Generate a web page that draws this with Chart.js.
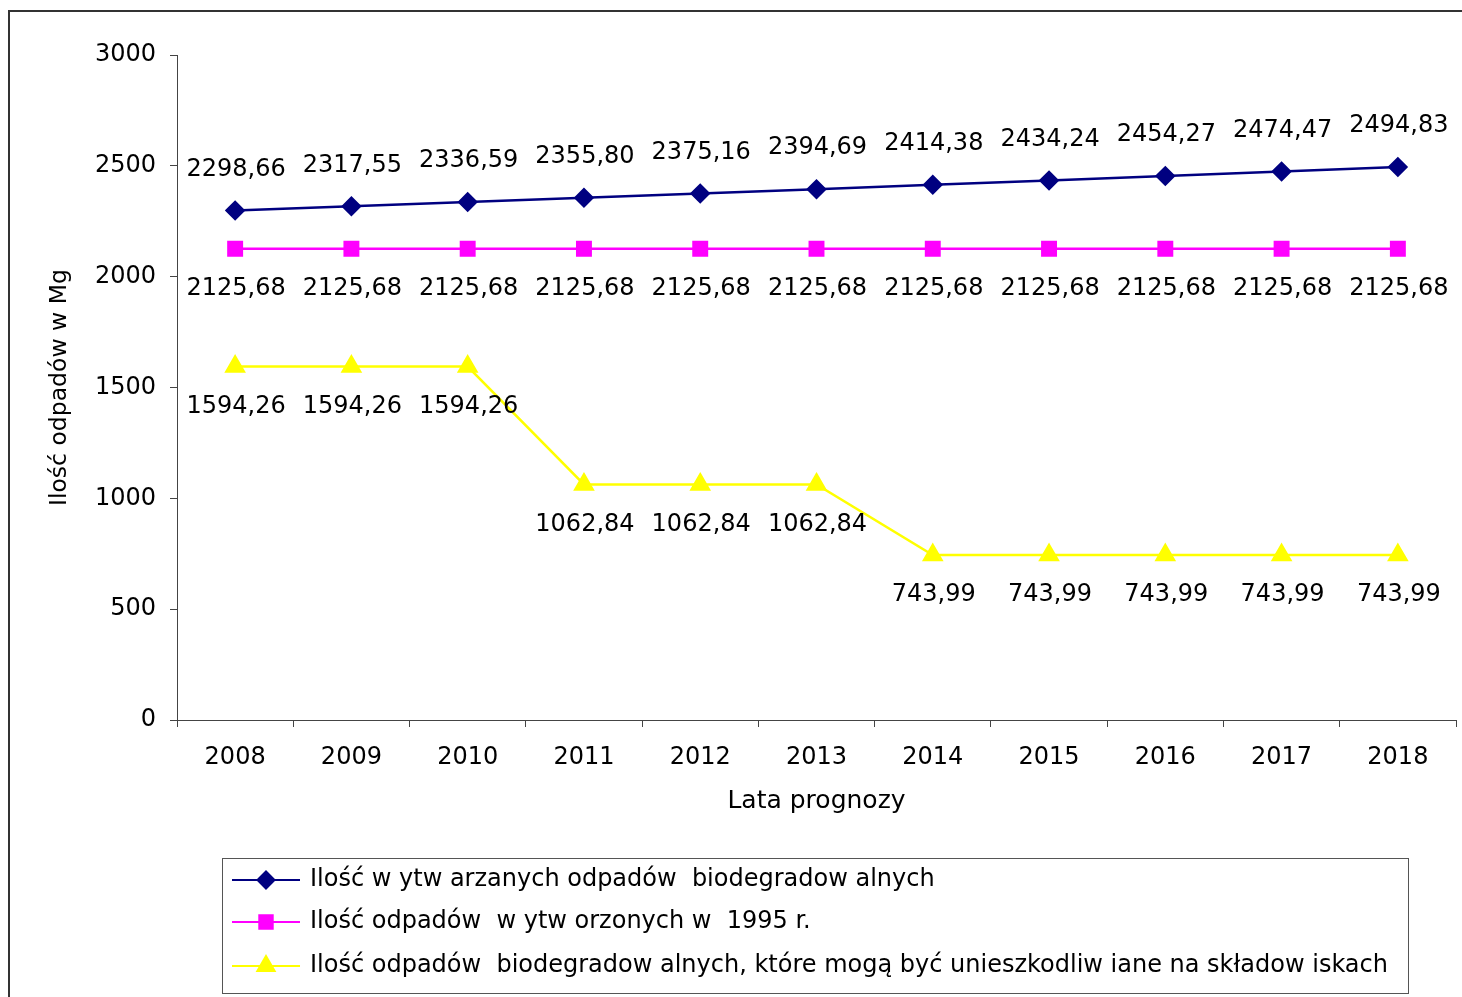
<!DOCTYPE html>
<html>
<head>
<meta charset="utf-8">
<script src="https://cdn.jsdelivr.net/npm/chart.js@4.4.1/dist/chart.umd.min.js"></script>
<style>
  html, body { margin: 0; padding: 0; background: #fff; overflow: hidden; width: 1462px; height: 997px; }
  #frame { position: absolute; left: 8px; top: 10px; width: 1480px; height: 1000px; border: 2px solid #333; }
  #chart { position: absolute; left: 0; top: 0; }
</style>
</head>
<body>
<div id="frame"></div>
<canvas id="chart" width="1462" height="997"></canvas>
<script>
const years = ['2008', '2009', '2010', '2011', '2012', '2013', '2014', '2015', '2016', '2017', '2018'];
const wytwarzane = [2298.66, 2317.55, 2336.59, 2355.80, 2375.16, 2394.69, 2414.38, 2434.24, 2454.27, 2474.47, 2494.83];
const wytworzone1995 = [2125.68, 2125.68, 2125.68, 2125.68, 2125.68, 2125.68, 2125.68, 2125.68, 2125.68, 2125.68, 2125.68];
const skladowane = [1594.26, 1594.26, 1594.26, 1062.84, 1062.84, 1062.84, 743.99, 743.99, 743.99, 743.99, 743.99];
const seriesNames = [
  'Ilość w ytw arzanych odpadów  biodegradow alnych',
  'Ilość odpadów  w ytw orzonych w  1995 r.',
  'Ilość odpadów  biodegradow alnych, które mogą być unieszkodliw iane na składow iskach'
];
const yMin = 0, yMax = 3000, yStep = 500;

const FONT = 'DejaVu Sans';
const labelShift = [-41, 40, 40]; // value labels above / below the points

// value labels with decimal comma
const valueLabels = {
  id: 'valueLabels',
  afterDatasetsDraw(chart) {
    const ctx = chart.ctx;
    ctx.save();
    ctx.font = '24px "' + FONT + '"';
    ctx.fillStyle = '#000';
    ctx.textAlign = 'center';
    ctx.textBaseline = 'middle';
    chart.data.datasets.forEach((ds, i) => {
      chart.getDatasetMeta(i).data.forEach((pt, j) => {
        const txt = ds.data[j].toFixed(2).replace('.', ',');
        ctx.fillText(txt, pt.x + 1, pt.y + labelShift[i]);
      });
    });
    ctx.restore();
  }
};

// legend box like the original (line + marker + text)
const boxLegend = {
  id: 'boxLegend',
  afterDraw(chart) {
    const ctx = chart.ctx;
    const rows = [880, 922, 966];
    ctx.save();
    ctx.strokeStyle = '#555';
    ctx.lineWidth = 1;
    ctx.strokeRect(222.5, 858.5, 1186, 135);
    ctx.font = '24px "' + FONT + '"';
    ctx.textBaseline = 'middle';
    ctx.textAlign = 'left';
    chart.data.datasets.forEach((ds, i) => {
      const y = rows[i];
      ctx.strokeStyle = ds.borderColor;
      ctx.lineWidth = 2;
      ctx.beginPath();
      ctx.moveTo(232, y);
      ctx.lineTo(300, y);
      ctx.stroke();
      ctx.fillStyle = ds.pointBackgroundColor;
      ctx.strokeStyle = ds.pointBorderColor;
      Chart.helpers.drawPoint(ctx, {
        pointStyle: ds.pointStyle, radius: ds.pointRadius, rotation: 0, borderWidth: 1
      }, 266, y);
      ctx.fillStyle = '#000';
      ctx.fillText(ds.label, 310, y);
    });
    ctx.restore();
  }
};

new Chart(document.getElementById('chart'), {
  type: 'line',
  data: {
    labels: years,
    datasets: [
      {
        label: seriesNames[0],
        data: wytwarzane,
        borderColor: '#000080',
        backgroundColor: '#000080',
        pointBackgroundColor: '#000080',
        pointBorderColor: '#000080',
        pointStyle: 'rectRot',
        pointRadius: 8.5,
        borderWidth: 2.5,
        tension: 0
      },
      {
        label: seriesNames[1],
        data: wytworzone1995,
        borderColor: '#FF00FF',
        backgroundColor: '#FF00FF',
        pointBackgroundColor: '#FF00FF',
        pointBorderColor: '#FF00FF',
        pointStyle: 'rect',
        pointRadius: 9.5,
        borderWidth: 2.5,
        tension: 0
      },
      {
        label: seriesNames[2],
        data: skladowane,
        borderColor: '#FFFF00',
        backgroundColor: '#FFFF00',
        pointBackgroundColor: '#FFFF00',
        pointBorderColor: '#FFFF00',
        pointStyle: 'triangle',
        pointRadius: 10,
        borderWidth: 2.5,
        tension: 0
      }
    ]
  },
  options: {
    responsive: false,
    animation: false,
    layout: {
      autoPadding: false,
      padding: { left: 8, right: 6, top: 55, bottom: 177 }
    },
    plugins: {
      legend: { display: false },
      tooltip: { enabled: false }
    },
    scales: {
      x: {
        offset: true,
        afterFit: (scale) => {
          scale.height = 100;
          scale.paddingLeft = 0;
          scale.paddingRight = 0;
        },
        grid: {
          display: true,
          drawOnChartArea: false,
          drawTicks: true,
          tickLength: 7,
          offset: true,
          color: '#444'
        },
        border: { display: true, color: '#444', width: 1 },
        ticks: {
          color: '#000',
          padding: 16,
          maxRotation: 0,
          font: { family: FONT, size: 24 }
        },
        title: {
          display: true,
          text: 'Lata prognozy',
          color: '#000',
          padding: { top: 0, bottom: 4 },
          font: { family: FONT, size: 25 }
        }
      },
      y: {
        min: yMin,
        max: yMax,
        afterFit: (scale) => { scale.width = 169; },
        grid: {
          display: true,
          drawOnChartArea: false,
          drawTicks: true,
          tickLength: 7,
          color: '#444'
        },
        border: { display: true, color: '#444', width: 1 },
        ticks: {
          stepSize: yStep,
          color: '#000',
          padding: 14,
          font: { family: FONT, size: 24 },
          callback: (v) => String(v)
        },
        title: {
          display: true,
          text: 'Ilość odpadów w Mg',
          color: '#000',
          padding: { top: 38, bottom: 0 },
          font: { family: FONT, size: 23.5 }
        }
      }
    }
  },
  plugins: [valueLabels, boxLegend]
});
</script>
</body>
</html>
